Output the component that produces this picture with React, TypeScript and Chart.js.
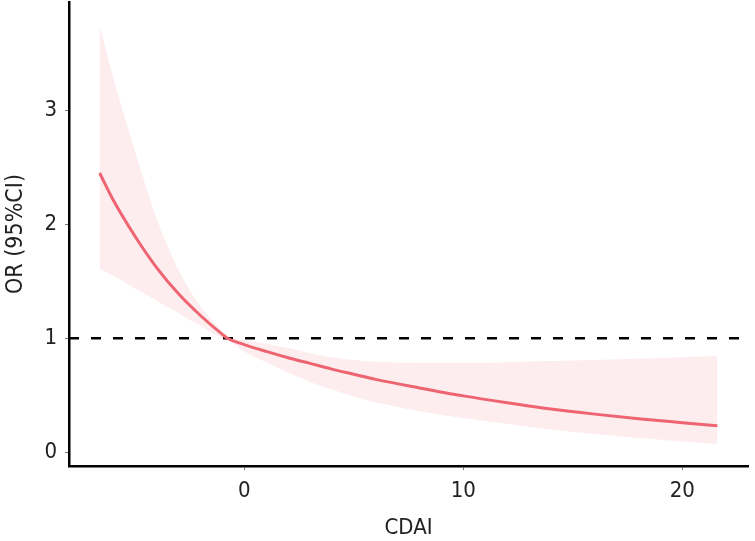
import React, { useEffect, useRef } from "react";
import { Chart, registerables } from "chart.js";

Chart.register(...registerables);

const xValues = [-6.6, -6, -5, -4, -3, -2, -1, -0.76, 0, 1, 2, 3, 4, 5, 6, 8, 10, 12, 14, 16, 18, 20, 21.6];
const orValues = [2.45, 2.22, 1.9, 1.62, 1.39, 1.2, 1.035, 1.0, 0.945, 0.885, 0.83, 0.78, 0.73, 0.685, 0.64, 0.565, 0.495, 0.435, 0.38, 0.335, 0.295, 0.26, 0.233];
const upperValues = [3.75, 3.3, 2.65, 2.05, 1.6, 1.28, 1.06, 1.01, 0.985, 0.95, 0.915, 0.87, 0.835, 0.81, 0.795, 0.785, 0.785, 0.79, 0.8, 0.81, 0.82, 0.835, 0.845];
const lowerValues = [1.61, 1.55, 1.44, 1.33, 1.22, 1.11, 1.0, 0.98, 0.885, 0.79, 0.7, 0.62, 0.55, 0.49, 0.44, 0.36, 0.3, 0.25, 0.2, 0.16, 0.125, 0.095, 0.073];
const refLineX = [-8, 23];
const refLineY = [1, 1];
const xTicks = [0, 10, 20];
const yTicks = [0, 1, 2, 3];

const FONT = "'DejaVu Sans Condensed', 'DejaVu Sans', sans-serif";

export default function App() {
  const ref = useRef<HTMLCanvasElement | null>(null);
  useEffect(() => {
    if (!ref.current) return;
    const pts = (ys: number[]) => xValues.map((x, i) => ({ x, y: ys[i] }));
    const chart = new Chart(ref.current, {
      type: "line",
      data: {
        datasets: [
          {
            label: "OR",
            data: pts(orValues),
            borderColor: "#EE6571",
            borderWidth: 3,
            pointRadius: 0,
            fill: false,
            cubicInterpolationMode: "monotone",
            order: 0,
          },
          {
            label: "ref",
            data: refLineX.map((x, i) => ({ x, y: refLineY[i] })),
            borderColor: "#000000",
            borderWidth: 2.5,
            borderDash: [10, 12],
            pointRadius: 0,
            fill: false,
            order: 1,
          },
          {
            label: "upper",
            data: pts(upperValues),
            borderWidth: 0,
            borderColor: "rgba(0,0,0,0)",
            backgroundColor: "#FDEDEF",
            pointRadius: 0,
            fill: "+1",
            cubicInterpolationMode: "monotone",
            order: 2,
          },
          {
            label: "lower",
            data: pts(lowerValues),
            borderWidth: 0,
            borderColor: "rgba(0,0,0,0)",
            backgroundColor: "#FDEDEF",
            pointRadius: 0,
            fill: false,
            cubicInterpolationMode: "monotone",
            order: 3,
          },
        ],
      },
      options: {
        animation: false,
        responsive: false,
        layout: { padding: { top: 2, right: 7, left: 0, bottom: 0 } },
        plugins: { legend: { display: false }, tooltip: { enabled: false } },
        scales: {
          x: {
            type: "linear",
            min: -8,
            max: 23,
            afterBuildTicks: (s: any) => {
              s.ticks = xTicks.map((v) => ({ value: v }));
            },
            afterFit: (s: any) => {
              s.height = 75;
              s.paddingLeft = 0;
              s.paddingRight = 0;
            },
            grid: { drawOnChartArea: false, drawTicks: true, tickLength: 4, color: "#777777" },
            border: { display: true, color: "#000000", width: 2.5 },
            ticks: { color: "#222222", font: { family: FONT, size: 22 }, padding: 8, maxRotation: 0 },
            title: { display: true, text: "CDAI", color: "#222222", font: { family: FONT, size: 22 }, padding: { top: 0, bottom: 0 } },
          },
          y: {
            type: "linear",
            min: -0.12,
            max: 3.95,
            afterBuildTicks: (s: any) => {
              s.ticks = yTicks.map((v) => ({ value: v }));
            },
            afterFit: (s: any) => {
              s.width = 69;
              s.paddingTop = 0;
              s.paddingBottom = 0;
            },
            grid: { drawOnChartArea: false, drawTicks: true, tickLength: 4, color: "#777777" },
            border: { display: true, color: "#000000", width: 2.5 },
            ticks: { color: "#222222", font: { family: FONT, size: 22 }, padding: 8 },
            title: { display: true, text: "OR (95%CI)", color: "#222222", font: { family: FONT, size: 23 }, padding: { top: 2, bottom: 2 } },
          },
        },
      },
    });
    return () => chart.destroy();
  }, []);
  return (
    <div style={{ position: "fixed", left: 0, top: 0, width: 755, height: 541, background: "#ffffff" }}>
      <canvas ref={ref} width={755} height={541} />
    </div>
  );
}
